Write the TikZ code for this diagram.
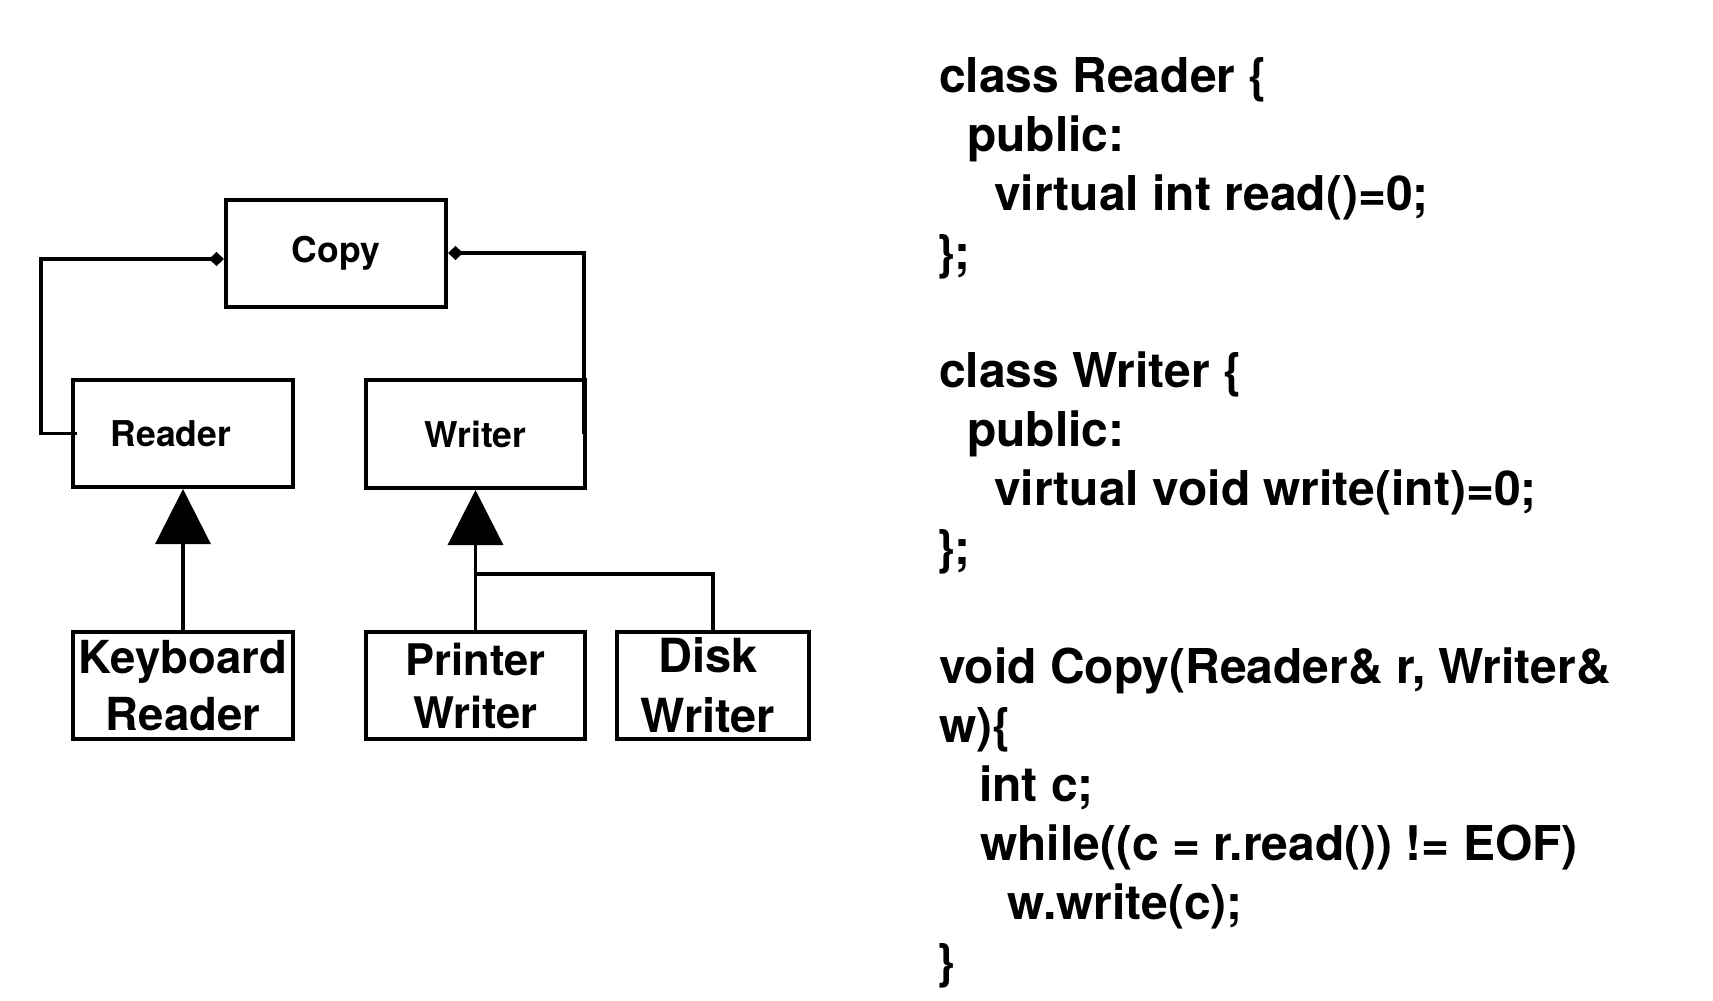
\documentclass[tikz,border=0pt]{standalone}
\usepackage{fontspec}
\setmainfont{TeX Gyre Heros}
\usetikzlibrary{arrows.meta}
\tikzset{
  box/.style={draw, line width=3.8pt, inner sep=0pt, align=center,
    minimum width=220.2pt, minimum height=107.2pt},
  smalltxt/.style={font=\fontsize{35.5}{40}\selectfont\bfseries},
  kbtxt/.style={font=\fontsize{45.5}{57}\selectfont\bfseries},
  pwtxt/.style={font=\fontsize{43.5}{53}\selectfont\bfseries},
  dwtxt/.style={font=\fontsize{47}{60}\selectfont\bfseries},
  codeline/.style={anchor=base west, inner sep=0pt, font=\fontsize{48}{59.1}\selectfont\bfseries},
  conn/.style={line width=3.2pt},
  inherit/.style={conn, -{Triangle[length=55pt,width=55pt]}},
  comp/.style={conn, -{Diamond[length=15pt,width=14pt]}},
}
\begin{document}
\begin{tikzpicture}[x=1pt,y=-1pt]
\useasboundingbox (0,0) rectangle (1713,1001);
% class boxes
\node[box, smalltxt] (copy) at (336,253.5) {Copy};
\node[box, smalltxt] (reader) at (183,433.5) {\hspace*{-24pt}Reader};
\node[box, smalltxt, minimum width=219.2pt, minimum height=108.2pt] (writer) at (475.5,434) {Writer};
\node[box, kbtxt] (kr) at (183,685.5) {Keyboard\\Reader};
\node[box, pwtxt, minimum width=219.2pt] (pw) at (475.5,685.5) {Printer\\Writer};
\node[box, dwtxt, minimum width=192.2pt] (dw) at (713,685.5) {\hspace*{-10pt}Disk\\\hspace*{-10pt}Writer};
% inheritance
\draw[inherit] (kr) -- (reader);
\draw[inherit] (pw) -- (writer);
\coordinate (join) at (475.5,574);
\draw[conn] (dw.north) |- (join);
% composition
\draw[comp] ([xshift=6pt]reader.west) -- ++(-36,0) |- (copy.west |- 0,259);
\draw[comp] ([xshift=-3pt]writer.east) |- (copy.east |- 0,253);
% code
\node[codeline] (c0) at (939,92) {class Reader \{};
\node[codeline] (c1) at (967,151.1) {public:};
\node[codeline] (c2) at (994,210.2) {virtual int read()=0;};
\node[codeline] (c3) at (936,269.3) {\};};
\node[codeline] (c5) at (939,387.5) {class Writer \{};
\node[codeline] (c6) at (967,446.6) {public:};
\node[codeline] (c7) at (994,505.7) {virtual void write(int)=0;};
\node[codeline] (c8) at (936,564.8) {\};};
\node[codeline] (c10) at (939,683) {void Copy(Reader\& r, Writer\&};
\node[codeline] (c11) at (939,742.1) {w)\{};
\node[codeline] (c12) at (979,801.2) {int c;};
\node[codeline] (c13) at (980,860.3) {while((c = r.read()) != EOF)};
\node[codeline] (c14) at (1007,919.4) {w.write(c);};
\node[codeline] (c15) at (936,978.5) {\}};
\end{tikzpicture}
\end{document}
